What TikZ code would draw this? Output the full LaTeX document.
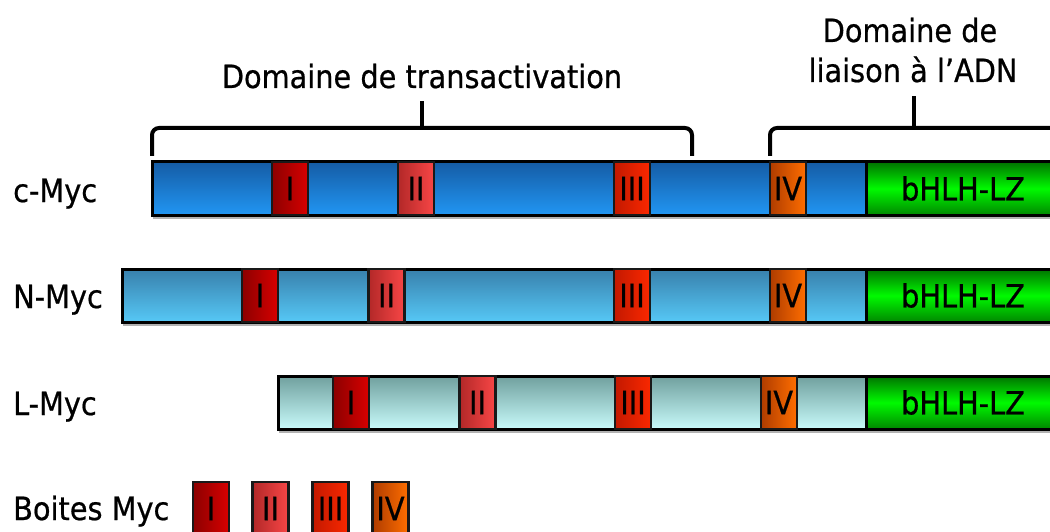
\documentclass[tikz,border=0pt]{standalone}
\usepackage{fontspec}
\setmainfont{DejaVu Sans Condensed}[UprightFeatures={FakeBold=0.6}]
\definecolor{cTop}{RGB}{21,92,165}
\definecolor{cBot}{RGB}{33,150,243}
\definecolor{nTop}{RGB}{56,128,172}
\definecolor{nBot}{RGB}{86,200,246}
\definecolor{lTop}{RGB}{112,160,158}
\definecolor{lBot}{RGB}{200,250,250}
\definecolor{gDark}{RGB}{0,115,0}
\definecolor{gBright}{RGB}{0,250,0}
\definecolor{bIL}{RGB}{140,0,0}
\definecolor{bIR}{RGB}{215,0,0}
\definecolor{bIIL}{RGB}{178,40,40}
\definecolor{bIIR}{RGB}{248,70,70}
\definecolor{bIIIL}{RGB}{195,25,0}
\definecolor{bIIIR}{RGB}{250,40,0}
\definecolor{bIVL}{RGB}{175,60,0}
\definecolor{bIVR}{RGB}{255,110,0}
\newcommand\myfnt{\fontsize{32}{36}\selectfont}
\tikzset{
  lbl/.style={font=\myfnt, anchor=base west, inner sep=0pt},
  ttl/.style={font=\myfnt, anchor=base, inner sep=0pt},
  barbox/.style={draw=black, line width=3pt},
  shadowline/.style={fill=black!30},
  mbox/.style={draw=black!90, line width=2.5pt, minimum width=36pt, minimum height=53pt, inner sep=0pt, font=\myfnt},
  boxI/.style={mbox, left color=bIL, right color=bIR},
  boxII/.style={mbox, left color=bIIL, right color=bIIR},
  boxIII/.style={mbox, left color=bIIIL, right color=bIIIR},
  boxIV/.style={mbox, left color=bIVL, right color=bIVR},
  green/.style={draw=black, line width=3pt, minimum width=194pt, minimum height=53pt, inner sep=0pt, font=\myfnt,
     top color=gDark, bottom color=gDark!85!gBright, middle color=gBright},
  brace/.style={draw=black, line width=4pt, rounded corners=7pt},
  tick/.style={draw=black, line width=4pt},
}
\begin{document}
\begin{tikzpicture}[x=1pt,y=-1pt]
\clip (0,0) rectangle (1050,532);
\fill[white] (0,0) rectangle (1050,532);

% titles
\node[ttl] (tta) at (422,88) {Domaine de transactivation};
\node[ttl] (ttb1) at (910,42) {Domaine de};
\node[ttl] (ttb2) at (913,82) {liaison à l’ADN};

% brackets
\coordinate (ba1) at (152,156);
\coordinate (ba2) at (692,156);
\coordinate (bat) at (422,101);
\coordinate (bam) at (422,128);
\draw[brace] (ba1) -- (152,128) -- (692,128) -- (ba2);
\draw[tick] (bam) -- (bat);
\coordinate (bb1) at (770,156);
\coordinate (bbt) at (914,96);
\coordinate (bbm) at (914,128);
\draw[brace] (bb1) -- (770,128) -- (1070,128);
\draw[tick] (bbm) -- (bbt);

% labels
\node[lbl] (lc) at (13,202) {c-Myc};
\node[lbl] (ln) at (13,308) {N-Myc};
\node[lbl] (ll) at (13,415) {L-Myc};
\node[lbl] (lb) at (13,520) {Boites Myc};

% c-Myc
\fill[shadowline] (153,215) rectangle (1060,219);
\path[barbox, top color=cTop, bottom color=cBot] (152,162) rectangle (1060,215);
\node[boxI]   (c1) at (290,188.5) {I};
\node[boxII]  (c2) at (416,188.5) {II};
\node[boxIII] (c3) at (632,188.5) {III};
\node[boxIV]  (c4) at (788,188.5) {IV};
\node[green]  (cg) at (963,188.5) {bHLH-LZ};

% N-Myc
\fill[shadowline] (123,322) rectangle (1060,326);
\path[barbox, top color=nTop, bottom color=nBot] (122,269) rectangle (1060,322);
\node[boxI]   (n1) at (260,295.5) {I};
\node[boxII]  (n2) at (386.5,295.5) {II};
\node[boxIII] (n3) at (632,295.5) {III};
\node[boxIV]  (n4) at (788,295.5) {IV};
\node[green]  (ng) at (963,295.5) {bHLH-LZ};

% L-Myc
\fill[shadowline] (279,429) rectangle (1060,433);
\path[barbox, top color=lTop, bottom color=lBot] (278,376) rectangle (1060,429);
\node[boxI]   (l1) at (351,402.5) {I};
\node[boxII]  (l2) at (477.5,402.5) {II};
\node[boxIII] (l3) at (633,402.5) {III};
\node[boxIV]  (l4) at (779,402.5) {IV};
\node[green]  (lg) at (963,402.5) {bHLH-LZ};

% legend
\node[boxI]   (k1) at (211,508.5) {I};
\node[boxII]  (k2) at (270.5,508.5) {II};
\node[boxIII] (k3) at (330.5,508.5) {III};
\node[boxIV]  (k4) at (390.5,508.5) {IV};
\end{tikzpicture}
\end{document}
